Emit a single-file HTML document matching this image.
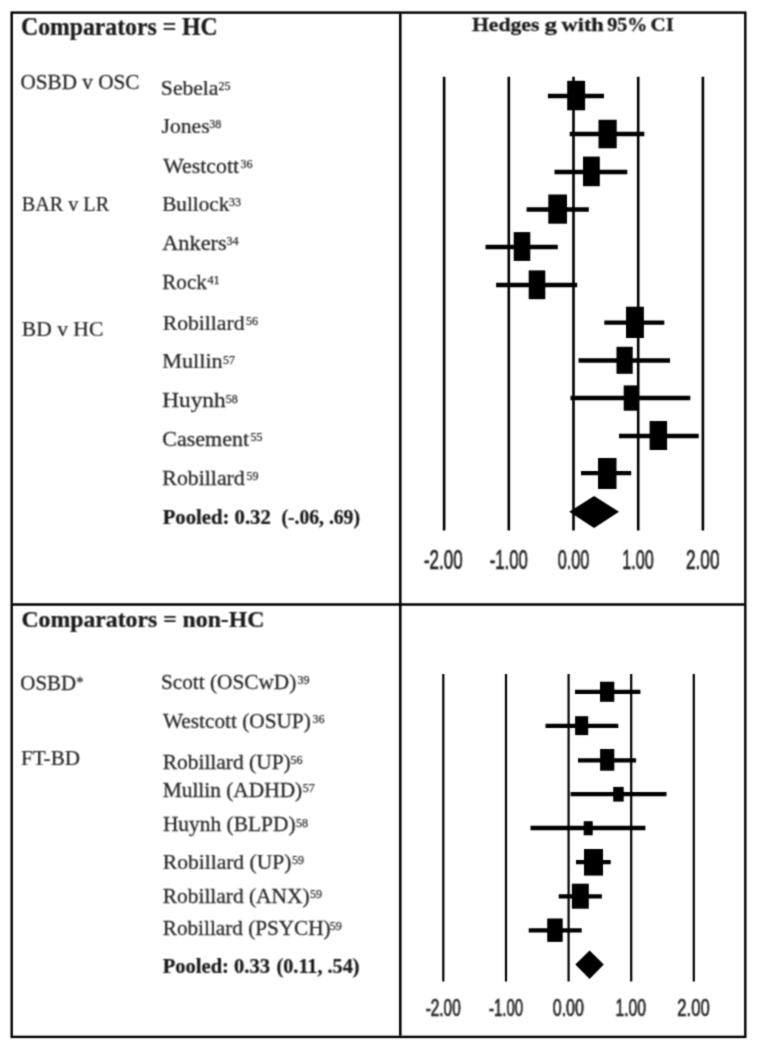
<!DOCTYPE html>
<html><head><meta charset="utf-8"><style>
html,body{margin:0;padding:0;background:#fff;overflow:hidden;width:759px;height:1050px;}
svg{display:block;}
text{fill:#282828;stroke:#282828;stroke-width:0.25px;}
</style></head><body>
<svg width="759" height="1050" viewBox="0 0 759 1050">
<defs><filter id="tb" filterUnits="userSpaceOnUse" x="0" y="0" width="759" height="1050"><feConvolveMatrix order="3" kernelMatrix="1 2 1 2 4 2 1 2 1" preserveAlpha="false"/></filter>
<filter id="sb" filterUnits="userSpaceOnUse" x="0" y="0" width="759" height="1050"><feConvolveMatrix order="3" kernelMatrix="1 4 1 4 16 4 1 4 1" preserveAlpha="false"/></filter></defs>
<rect width="759" height="1050" fill="#fff"/>
<g filter="url(#sb)">
<rect x="11.7" y="12.6" width="733.6" height="1024.3" fill="none" stroke="#000" stroke-width="2.4"/>
<line x1="400.3" y1="13.5" x2="400.3" y2="1035.8" stroke="#000" stroke-width="2.5"/>
<line x1="12.8" y1="604.5" x2="744.2" y2="604.5" stroke="#000" stroke-width="2.5"/>
<line x1="444.1" y1="76.7" x2="444.1" y2="530.5" stroke="#000" stroke-width="2.6"/>
<line x1="508.8" y1="76.7" x2="508.8" y2="530.5" stroke="#000" stroke-width="2.6"/>
<line x1="573.5" y1="76.7" x2="573.5" y2="530.5" stroke="#000" stroke-width="2.6"/>
<line x1="638.2" y1="76.7" x2="638.2" y2="530.5" stroke="#000" stroke-width="2.6"/>
<line x1="702.9" y1="76.7" x2="702.9" y2="530.5" stroke="#000" stroke-width="2.6"/>
<line x1="547.9" y1="96.0" x2="604.0" y2="96.0" stroke="#000" stroke-width="4.3"/>
<rect x="567.2" y="80.8" width="17.9" height="29.5" fill="#000"/>
<line x1="569.7" y1="134.0" x2="644.3" y2="134.0" stroke="#000" stroke-width="4.3"/>
<rect x="598.5" y="119.8" width="18.2" height="28.5" fill="#000"/>
<line x1="554.5" y1="172.0" x2="627.3" y2="172.0" stroke="#000" stroke-width="4.3"/>
<rect x="583.0" y="156.6" width="16.8" height="29.6" fill="#000"/>
<line x1="526.6" y1="209.5" x2="588.8" y2="209.5" stroke="#000" stroke-width="4.3"/>
<rect x="548.3" y="194.5" width="18.7" height="29.2" fill="#000"/>
<line x1="485.5" y1="247.0" x2="557.8" y2="247.0" stroke="#000" stroke-width="4.3"/>
<rect x="513.7" y="232.1" width="16.6" height="28.8" fill="#000"/>
<line x1="496.1" y1="285.0" x2="577.2" y2="285.0" stroke="#000" stroke-width="4.3"/>
<rect x="528.7" y="270.4" width="16.6" height="28.8" fill="#000"/>
<line x1="604.3" y1="322.6" x2="664.3" y2="322.6" stroke="#000" stroke-width="4.3"/>
<rect x="626.0" y="306.7" width="17.9" height="31.3" fill="#000"/>
<line x1="578.5" y1="360.5" x2="670.0" y2="360.5" stroke="#000" stroke-width="4.3"/>
<rect x="616.5" y="346.8" width="16.2" height="27.0" fill="#000"/>
<line x1="570.5" y1="398.0" x2="690.3" y2="398.0" stroke="#000" stroke-width="4.3"/>
<rect x="623.7" y="385.4" width="14.7" height="25.3" fill="#000"/>
<line x1="619.0" y1="436.0" x2="698.7" y2="436.0" stroke="#000" stroke-width="4.3"/>
<rect x="649.6" y="421.0" width="17.5" height="29.0" fill="#000"/>
<line x1="581.0" y1="473.2" x2="631.2" y2="473.2" stroke="#000" stroke-width="4.3"/>
<rect x="598.0" y="458.0" width="18.5" height="31.0" fill="#000"/>
<polygon points="569.2,511.8 594.1,496.1 619.0,511.8 594.1,528.0" fill="#000"/>
<line x1="443.3" y1="674.0" x2="443.3" y2="981.6" stroke="#000" stroke-width="2.2"/>
<line x1="506.0" y1="674.0" x2="506.0" y2="981.6" stroke="#000" stroke-width="2.2"/>
<line x1="568.6" y1="674.0" x2="568.6" y2="981.6" stroke="#000" stroke-width="2.2"/>
<line x1="631.2" y1="674.0" x2="631.2" y2="981.6" stroke="#000" stroke-width="2.2"/>
<line x1="693.8" y1="674.0" x2="693.8" y2="981.6" stroke="#000" stroke-width="2.2"/>
<line x1="575.0" y1="691.9" x2="640.4" y2="691.9" stroke="#000" stroke-width="4.3"/>
<rect x="600.0" y="681.7" width="14.3" height="20.1" fill="#000"/>
<line x1="545.5" y1="725.8" x2="618.3" y2="725.8" stroke="#000" stroke-width="4.3"/>
<rect x="575.1" y="716.2" width="13.1" height="18.9" fill="#000"/>
<line x1="578.0" y1="760.4" x2="636.1" y2="760.4" stroke="#000" stroke-width="4.3"/>
<rect x="600.1" y="749.0" width="14.2" height="21.7" fill="#000"/>
<line x1="570.6" y1="794.2" x2="666.5" y2="794.2" stroke="#000" stroke-width="4.3"/>
<rect x="613.2" y="786.9" width="10.5" height="14.7" fill="#000"/>
<line x1="530.5" y1="828.0" x2="645.4" y2="828.0" stroke="#000" stroke-width="4.3"/>
<rect x="583.7" y="821.2" width="9.0" height="14.1" fill="#000"/>
<line x1="576.0" y1="862.2" x2="610.7" y2="862.2" stroke="#000" stroke-width="4.3"/>
<rect x="584.0" y="849.0" width="19.0" height="26.6" fill="#000"/>
<line x1="558.7" y1="896.4" x2="601.9" y2="896.4" stroke="#000" stroke-width="4.3"/>
<rect x="571.9" y="883.7" width="16.9" height="25.0" fill="#000"/>
<line x1="528.7" y1="930.4" x2="581.7" y2="930.4" stroke="#000" stroke-width="4.3"/>
<rect x="547.2" y="918.5" width="15.5" height="23.4" fill="#000"/>
<polygon points="575.3,964.5 589.6,950.4 603.8,964.5 589.6,979.0" fill="#000"/>
</g>
<g filter="url(#tb)">
<text transform="translate(21.05,34.8) scale(0.9490,1)" font-size="25" font-weight="bold" style="font-family:&quot;Liberation Serif&quot;, serif;fill:#1a1a1a;stroke:#1a1a1a">Comparators = HC</text>
<text transform="translate(471.90,30.6) scale(1.1424,1)" font-size="19" font-weight="bold" style="font-family:&quot;Liberation Serif&quot;, serif;fill:#1a1a1a;stroke:#1a1a1a">Hedges</text>
<text transform="translate(544.49,30.6) scale(1.3125,1)" font-size="19" font-weight="bold" style="font-family:&quot;Liberation Serif&quot;, serif;fill:#1a1a1a;stroke:#1a1a1a">g</text>
<text transform="translate(561.60,30.6) scale(1.1743,1)" font-size="19" font-weight="bold" style="font-family:&quot;Liberation Serif&quot;, serif;fill:#1a1a1a;stroke:#1a1a1a">with</text>
<text transform="translate(607.35,30.6) scale(1.0543,1)" font-size="19" font-weight="bold" style="font-family:&quot;Liberation Serif&quot;, serif;fill:#1a1a1a;stroke:#1a1a1a">95%</text>
<text transform="translate(650.49,30.6) scale(1.1105,1)" font-size="19" font-weight="bold" style="font-family:&quot;Liberation Serif&quot;, serif;fill:#1a1a1a;stroke:#1a1a1a">CI</text>
<text transform="translate(21.39,626.6) scale(1.0109,1)" font-size="23.5" font-weight="bold" style="font-family:&quot;Liberation Serif&quot;, serif;fill:#1a1a1a;stroke:#1a1a1a">Comparators = non-HC</text>
<text transform="translate(20.49,88.8) scale(1.0103,1)" font-size="21" style="font-family:&quot;Liberation Serif&quot;, serif">OSBD v OSC</text>
<text transform="translate(21.74,211.4) scale(0.9611,1)" font-size="21" style="font-family:&quot;Liberation Serif&quot;, serif">BAR v LR</text>
<text transform="translate(21.87,336.0) scale(1.0273,1)" font-size="21" style="font-family:&quot;Liberation Serif&quot;, serif">BD v HC</text>
<text transform="translate(20.30,689.5) scale(0.9963,1)" font-size="21" style="font-family:&quot;Liberation Serif&quot;, serif">OSBD</text>
<text transform="translate(20.89,764.5) scale(1.0070,1)" font-size="21" style="font-family:&quot;Liberation Serif&quot;, serif">FT-BD</text>
<text transform="translate(162.71,523.5) scale(0.9861,1)" font-size="21" font-weight="bold" style="font-family:&quot;Liberation Serif&quot;, serif;fill:#1a1a1a;stroke:#1a1a1a">Pooled: 0.32</text>
<text transform="translate(281.57,523.5) scale(0.9341,1)" font-size="21" font-weight="bold" style="font-family:&quot;Liberation Serif&quot;, serif;fill:#1a1a1a;stroke:#1a1a1a">(-.06, .69)</text>
<text transform="translate(162.72,973.2) scale(0.9796,1)" font-size="21" font-weight="bold" style="font-family:&quot;Liberation Serif&quot;, serif;fill:#1a1a1a;stroke:#1a1a1a">Pooled: 0.33</text>
<text transform="translate(276.54,973.2) scale(0.9607,1)" font-size="21" font-weight="bold" style="font-family:&quot;Liberation Serif&quot;, serif;fill:#1a1a1a;stroke:#1a1a1a">(0.11, .54)</text>
<text transform="translate(76.16,686.7) scale(1.0400,1)" font-size="14" style="font-family:&quot;Liberation Serif&quot;, serif">*</text>
<text transform="translate(160.87,95.0) scale(1.0291,1)" font-size="21" style="font-family:&quot;Liberation Serif&quot;, serif">Sebela</text>
<text transform="translate(218.50,90.2) scale(1.0000,1)" font-size="12" style="font-family:&quot;Liberation Serif&quot;, serif;stroke-width:0.25px">25</text>
<text transform="translate(161.47,133.0) scale(1.0333,1)" font-size="21" style="font-family:&quot;Liberation Serif&quot;, serif">Jones</text>
<text transform="translate(209.20,128.2) scale(1.0000,1)" font-size="12" style="font-family:&quot;Liberation Serif&quot;, serif;stroke-width:0.25px">38</text>
<text transform="translate(163.30,172.5) scale(1.0384,1)" font-size="21" style="font-family:&quot;Liberation Serif&quot;, serif">Westcott</text>
<text transform="translate(240.40,167.7) scale(1.0000,1)" font-size="12" style="font-family:&quot;Liberation Serif&quot;, serif;stroke-width:0.25px">36</text>
<text transform="translate(162.19,211.1) scale(1.0092,1)" font-size="21" style="font-family:&quot;Liberation Serif&quot;, serif">Bullock</text>
<text transform="translate(228.90,206.29999999999998) scale(1.0000,1)" font-size="12" style="font-family:&quot;Liberation Serif&quot;, serif;stroke-width:0.25px">33</text>
<text transform="translate(162.24,249.9) scale(1.0644,1)" font-size="21" style="font-family:&quot;Liberation Serif&quot;, serif">Ankers</text>
<text transform="translate(226.50,245.1) scale(1.0000,1)" font-size="12" style="font-family:&quot;Liberation Serif&quot;, serif;stroke-width:0.25px">34</text>
<text transform="translate(162.30,288.8) scale(1.0047,1)" font-size="21" style="font-family:&quot;Liberation Serif&quot;, serif">Rock</text>
<text transform="translate(207.50,284.0) scale(1.0000,1)" font-size="12" style="font-family:&quot;Liberation Serif&quot;, serif;stroke-width:0.25px">41</text>
<text transform="translate(162.77,329.6) scale(1.0308,1)" font-size="21" style="font-family:&quot;Liberation Serif&quot;, serif">Robillard</text>
<text transform="translate(246.10,324.8) scale(1.0000,1)" font-size="12" style="font-family:&quot;Liberation Serif&quot;, serif;stroke-width:0.25px">56</text>
<text transform="translate(162.24,368.3) scale(1.0571,1)" font-size="21" style="font-family:&quot;Liberation Serif&quot;, serif">Mullin</text>
<text transform="translate(222.90,363.5) scale(1.0000,1)" font-size="12" style="font-family:&quot;Liberation Serif&quot;, serif;stroke-width:0.25px">57</text>
<text transform="translate(162.19,407.4) scale(1.1089,1)" font-size="21" style="font-family:&quot;Liberation Serif&quot;, serif">Huynh</text>
<text transform="translate(225.80,402.59999999999997) scale(1.0000,1)" font-size="12" style="font-family:&quot;Liberation Serif&quot;, serif;stroke-width:0.25px">58</text>
<text transform="translate(162.35,445.6) scale(1.0476,1)" font-size="21" style="font-family:&quot;Liberation Serif&quot;, serif">Casement</text>
<text transform="translate(250.40,440.8) scale(1.0000,1)" font-size="12" style="font-family:&quot;Liberation Serif&quot;, serif;stroke-width:0.25px">55</text>
<text transform="translate(162.36,484.5) scale(1.0397,1)" font-size="21" style="font-family:&quot;Liberation Serif&quot;, serif">Robillard</text>
<text transform="translate(246.50,479.7) scale(1.0000,1)" font-size="12" style="font-family:&quot;Liberation Serif&quot;, serif;stroke-width:0.25px">59</text>
<text transform="translate(160.89,689.2) scale(1.0144,1)" font-size="21" style="font-family:&quot;Liberation Serif&quot;, serif">Scott (OSCwD)</text>
<text transform="translate(297.40,684.4000000000001) scale(1.0000,1)" font-size="12" style="font-family:&quot;Liberation Serif&quot;, serif;stroke-width:0.25px">39</text>
<text transform="translate(163.00,727.5) scale(1.0138,1)" font-size="21" style="font-family:&quot;Liberation Serif&quot;, serif">Westcott (OSUP)</text>
<text transform="translate(312.50,722.7) scale(1.0000,1)" font-size="12" style="font-family:&quot;Liberation Serif&quot;, serif;stroke-width:0.25px">36</text>
<text transform="translate(162.68,768.6) scale(1.0218,1)" font-size="21" style="font-family:&quot;Liberation Serif&quot;, serif">Robillard (UP)</text>
<text transform="translate(290.40,763.8000000000001) scale(1.0000,1)" font-size="12" style="font-family:&quot;Liberation Serif&quot;, serif;stroke-width:0.25px">56</text>
<text transform="translate(162.68,796.5) scale(1.0185,1)" font-size="21" style="font-family:&quot;Liberation Serif&quot;, serif">Mullin (ADHD)</text>
<text transform="translate(302.80,791.7) scale(1.0000,1)" font-size="12" style="font-family:&quot;Liberation Serif&quot;, serif;stroke-width:0.25px">57</text>
<text transform="translate(162.88,831.4) scale(1.0203,1)" font-size="21" style="font-family:&quot;Liberation Serif&quot;, serif">Huynh (BLPD)</text>
<text transform="translate(296.00,826.6) scale(1.0000,1)" font-size="12" style="font-family:&quot;Liberation Serif&quot;, serif;stroke-width:0.25px">58</text>
<text transform="translate(162.77,868.8) scale(1.0266,1)" font-size="21" style="font-family:&quot;Liberation Serif&quot;, serif">Robillard (UP)</text>
<text transform="translate(291.90,864.0) scale(1.0000,1)" font-size="12" style="font-family:&quot;Liberation Serif&quot;, serif;stroke-width:0.25px">59</text>
<text transform="translate(162.78,902.5) scale(1.0197,1)" font-size="21" style="font-family:&quot;Liberation Serif&quot;, serif">Robillard (ANX)</text>
<text transform="translate(310.00,897.7) scale(1.0000,1)" font-size="12" style="font-family:&quot;Liberation Serif&quot;, serif;stroke-width:0.25px">59</text>
<text transform="translate(162.79,934.8) scale(1.0098,1)" font-size="21" style="font-family:&quot;Liberation Serif&quot;, serif">Robillard (PSYCH)</text>
<text transform="translate(329.70,930.0) scale(1.0000,1)" font-size="12" style="font-family:&quot;Liberation Serif&quot;, serif;stroke-width:0.25px">59</text>
<text transform="translate(423.98,569.2) scale(0.6164,1)" font-size="27.5" style="font-family:&quot;Liberation Sans&quot;, sans-serif;fill:#222;stroke:#222;stroke-width:0.7px">-2.00</text>
<text transform="translate(489.69,569.2) scale(0.6082,1)" font-size="27.5" style="font-family:&quot;Liberation Sans&quot;, sans-serif;fill:#222;stroke:#222;stroke-width:0.7px">-1.00</text>
<text transform="translate(557.71,569.2) scale(0.5923,1)" font-size="27.5" style="font-family:&quot;Liberation Sans&quot;, sans-serif;fill:#222;stroke:#222;stroke-width:0.7px">0.00</text>
<text transform="translate(622.22,569.2) scale(0.5902,1)" font-size="27.5" style="font-family:&quot;Liberation Sans&quot;, sans-serif;fill:#222;stroke:#222;stroke-width:0.7px">1.00</text>
<text transform="translate(686.08,569.2) scale(0.6231,1)" font-size="27.5" style="font-family:&quot;Liberation Sans&quot;, sans-serif;fill:#222;stroke:#222;stroke-width:0.7px">2.00</text>
<text transform="translate(425.66,1016.4) scale(0.6415,1)" font-size="24" style="font-family:&quot;Liberation Sans&quot;, sans-serif;fill:#222;stroke:#222;stroke-width:0.7px">-2.00</text>
<text transform="translate(488.97,1016.4) scale(0.6264,1)" font-size="24" style="font-family:&quot;Liberation Sans&quot;, sans-serif;fill:#222;stroke:#222;stroke-width:0.7px">-1.00</text>
<text transform="translate(552.73,1016.4) scale(0.6689,1)" font-size="24" style="font-family:&quot;Liberation Sans&quot;, sans-serif;fill:#222;stroke:#222;stroke-width:0.7px">0.00</text>
<text transform="translate(615.39,1016.4) scale(0.6568,1)" font-size="24" style="font-family:&quot;Liberation Sans&quot;, sans-serif;fill:#222;stroke:#222;stroke-width:0.7px">1.00</text>
<text transform="translate(677.31,1016.4) scale(0.6933,1)" font-size="24" style="font-family:&quot;Liberation Sans&quot;, sans-serif;fill:#222;stroke:#222;stroke-width:0.7px">2.00</text>
</g>
</svg>
</body></html>
